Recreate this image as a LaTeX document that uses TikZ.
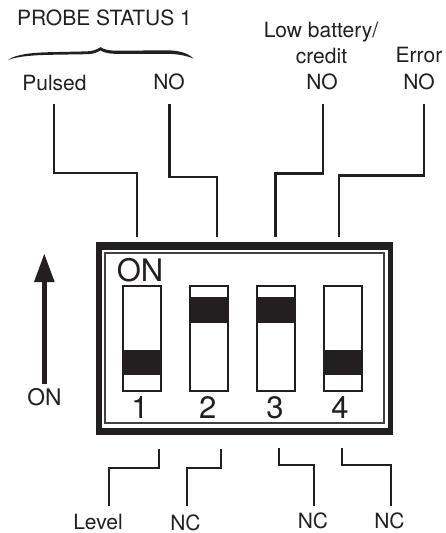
\documentclass[tikz,border=0pt]{standalone}
\usepackage{fontspec}
\setmainfont{TeX Gyre Heros}
\definecolor{ink}{HTML}{231F20}
\tikzset{
  wire/.style={draw=ink,line width=2.3pt,miter limit=10},
  lbl/.style={anchor=base,inner sep=0pt,text=ink,font=\fontsize{21}{24}\selectfont},
  big/.style={anchor=base,inner sep=0pt,text=ink,font=\fontsize{31}{36}\selectfont},
  slot/.style={draw=ink,line width=2pt,fill=white},
  bar/.style={fill=ink,draw=none},
}
\begin{document}
\begin{tikzpicture}[x=1pt,y=-1pt]
\useasboundingbox (0,0) rectangle (445,533);
% labels
\node[lbl] (probe) at (104.5,25) {PROBE STATUS 1};
\node[lbl] (pulsed) at (54.5,90.5) {Pulsed};
\node[lbl] (no1) at (169,89) {NO};
\node[lbl] (lowa) at (321,37) {Low battery/};
\node[lbl] (lowb) at (321.5,63.5) {credit};
\node[lbl] (no2) at (322,89) {NO};
\node[lbl] (error) at (419,62.5) {Error};
\node[lbl] (no3) at (419,89) {NO};
\node[lbl] (level) at (98,529.5) {Level};
\node[lbl] (nc1) at (185.5,530) {NC};
\node[lbl] (nc2) at (313,528.5) {NC};
\node[lbl] (nc3) at (389.5,528.5) {NC};
% brace
\fill[ink] (8,59.8) .. controls (16,54.6) and (30,52.6) .. (50,52.2) -- (86,51.4)
  .. controls (93,51.4) and (97,49.4) .. (100.5,47.2)
  .. controls (104,49.4) and (108,50.6) .. (116,50.6) -- (170,50.4)
  .. controls (180,51) and (188,53) .. (193.5,58.6)
  .. controls (186,55.6) and (178,54) .. (168,53.8) -- (116,53.8)
  .. controls (108,53.8) and (104,52.4) .. (100.5,50.4)
  .. controls (97,52.6) and (93,54.2) .. (86,54.2) -- (50,54.8)
  .. controls (32,55.2) and (18,56.4) .. (8,59.8) -- cycle;
% switch body
\node[draw=none,fill=ink,minimum width=297pt,minimum height=193pt,inner sep=0pt,anchor=north west] (body) at (96,242) {};
\fill[white] (102,249.5) rectangle (388,427.5);
\draw[ink!85,line width=1.6pt] (105,253) rectangle (384,423);
% switches
\node[slot,minimum width=38pt,minimum height=105pt,inner sep=0pt] (s1) at (142,338) {};
\node[slot,minimum width=38pt,minimum height=105pt,inner sep=0pt] (s2) at (209,338) {};
\node[slot,minimum width=38pt,minimum height=105pt,inner sep=0pt] (s3) at (276.3,338) {};
\node[slot,minimum width=38pt,minimum height=105pt,inner sep=0pt] (s4) at (343.3,338) {};
\fill[bar] (122,350) rectangle (162,375.3);
\fill[bar] (189,297.3) rectangle (229,323.3);
\fill[bar] (256.3,297.3) rectangle (296.3,323.3);
\fill[bar] (323.3,350) rectangle (363.3,375.3);
\node[big] (onb) at (140,281.7) {ON};
\node[big] (d1) at (140,418.3) {1};
\node[big] (d2) at (207.7,418.3) {2};
\node[big] (d3) at (275,418.3) {3};
\node[big] (d4) at (340,418.3) {4};
% wire ends
\coordinate (a1) at (54,103.5);   \coordinate (b1) at (137,236.7);
\coordinate (a2) at (169.5,103.5);\coordinate (b2) at (217,236.7);
\coordinate (a3) at (323,103.5);  \coordinate (b3) at (275.5,236.7);
\coordinate (a4) at (424,104);    \coordinate (b4) at (339,236.7);
\coordinate (c1) at (158.7,449);  \coordinate (e1) at (109.3,506);
\coordinate (c2) at (221,449);    \coordinate (e2) at (186.7,506);
\coordinate (c3) at (279,447.5);  \coordinate (e3) at (313.7,506);
\coordinate (c4) at (341.7,447.5);\coordinate (e4) at (391.3,506);
\draw[wire] (a1) -- (54,172.7) -- (137,172.7) -- (b1);
\draw[wire] (a2) -- (169.5,177.3) -- (217,177.3) -- (b2);
\draw[wire] (a3) -- (323,173.5) -- (275.5,173.5) -- (b3);
\draw[wire] (a4) -- (424,175.5) -- (339,175.5) -- (b4);
\draw[wire] (c1) -- (158.7,467.7) -- (109.3,467.7) -- (e1);
\draw[wire] (c2) -- (221,467.7) -- (186.7,467.7) -- (e2);
\draw[wire] (c3) -- (279,464.7) -- (313.7,464.7) -- (e3);
\draw[wire] (c4) -- (341.7,464.7) -- (391.3,464.7) -- (e4);
% ON arrow
\node[anchor=base,inner sep=0pt,text=ink,font=\fontsize{22.8}{26}\selectfont] (onl) at (44.5,405.7) {ON};
\coordinate (arrtail) at (44.3,384);
\coordinate (arrbase) at (44.3,282);
\coordinate (arrtip) at (44.3,254);
\draw[ink,line width=4.7pt] (arrtail) -- (arrbase);
\fill[ink] (arrtip) -- (54.7,282) -- (34,282) -- cycle;
\end{tikzpicture}
\end{document}
